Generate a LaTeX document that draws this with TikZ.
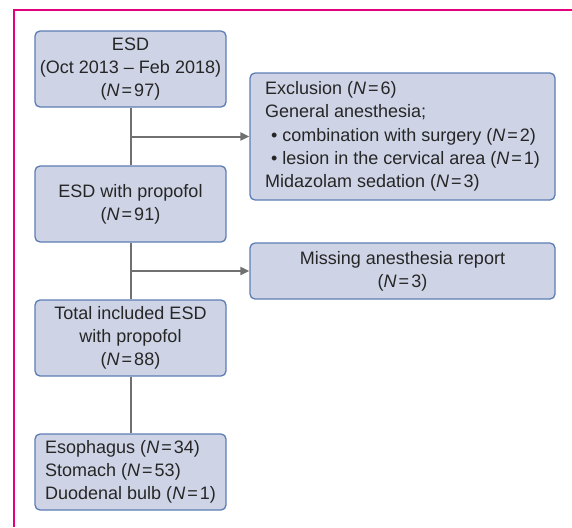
\documentclass[tikz,border=0pt]{standalone}
\usepackage{fontspec}
\setmainfont{Liberation Sans}
\usetikzlibrary{arrows.meta}
\definecolor{boxfill}{RGB}{206,212,230}
\definecolor{boxdraw}{RGB}{92,125,180}
\definecolor{linegray}{RGB}{112,112,112}
\definecolor{framepink}{RGB}{228,0,124}
\newcommand{\NN}[1]{\textit{N}\kern2pt=\kern2pt#1}
\tikzset{
  box/.style={draw=boxdraw, fill=boxfill, line width=1.3pt, rounded corners=5pt,
    inner sep=0pt, font=\fontsize{18}{23.3}\selectfont, text=black!85},
  conn/.style={draw=linegray, line width=2pt},
  arr/.style={conn, -{Triangle[length=9pt,width=8pt]}},
}
\begin{document}
\begin{tikzpicture}[x=1pt,y=1pt]
\useasboundingbox (0,0) rectangle (572,-527);
\draw[framepink, line width=2.6pt] (14,-527) -- (14,-10) -- (572,-10);
\node[box, minimum width=191pt, minimum height=76pt, align=center] (b1) at (130.5,-69)
  {ESD\\(Oct 2013 -- Feb 2018)\\(\NN{97})};
\node[box, minimum width=305pt, minimum height=127pt, align=left] (ex) at (402.5,-136.5)
  {Exclusion (\NN{6})\\General anesthesia;\\\hspace{6pt}\textbullet\ combination with surgery (\NN{2})\\\hspace{6pt}\textbullet\ lesion in the cervical area (\NN{1})\\Midazolam sedation (\NN{3})};
\node[box, minimum width=191pt, minimum height=76pt, align=center] (b2) at (130.5,-204)
  {ESD with propofol\\(\NN{91})};
\node[box, minimum width=305pt, minimum height=56pt, align=center] (mi) at (402.5,-271)
  {Missing anesthesia report\\(\NN{3})};
\node[box, minimum width=191pt, minimum height=76pt, align=center] (b3) at (130.5,-338)
  {Total included ESD\\with propofol\\(\NN{88})};
\node[box, minimum width=191pt, minimum height=76pt, align=left] (b4) at (130.5,-472)
  {Esophagus (\NN{34})\\Stomach (\NN{53})\\Duodenal bulb (\NN{1})};
\coordinate (j1) at (130.5,-136.5);
\coordinate (j2) at (130.5,-271);
\draw[conn] (b1) -- (b2);
\draw[conn] (b2) -- (b3);
\draw[conn] (b3) -- (b4);
\draw[arr] (j1) -- (ex.west);
\draw[arr] (j2) -- (mi.west);
\end{tikzpicture}
\end{document}
